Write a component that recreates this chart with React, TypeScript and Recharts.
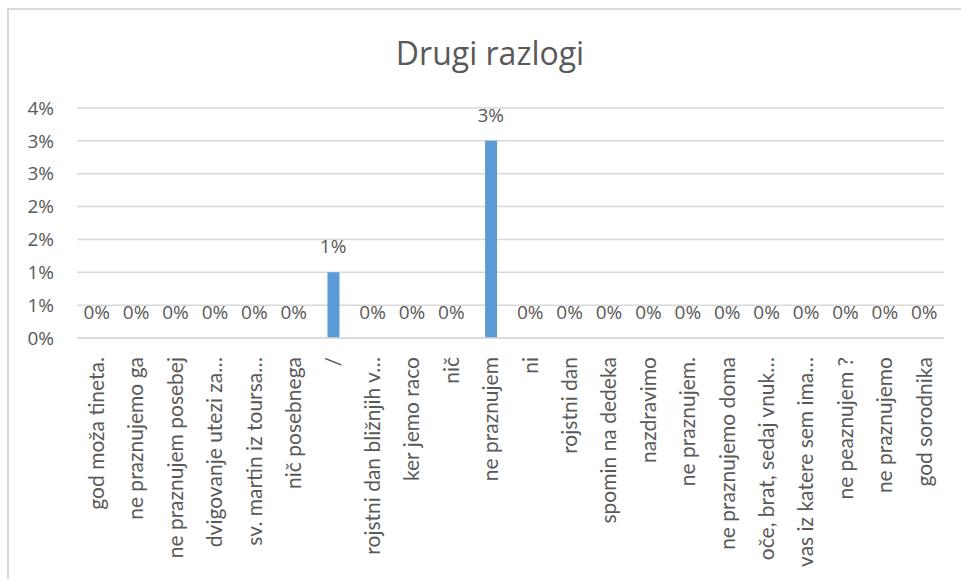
import React from "react";
import { ComposedChart, Bar, Line, XAxis, YAxis, CartesianGrid, LabelList } from "recharts";

// answers (category labels as shown, long ones already cut by Excel)
const categories = [
  "god moža tineta.",
  "ne praznujemo ga",
  "ne praznujem posebej",
  "dvigovanje utezi za…",
  "sv. martin iz toursa…",
  "nič posebnega",
  "/",
  "rojstni dan bližnjih v…",
  "ker jemo raco",
  "nič",
  "ne praznujem",
  "ni",
  "rojstni dan",
  "spomin na dedeka",
  "nazdravimo",
  "ne praznujem.",
  "ne praznujemo doma",
  "oče, brat, sedaj vnuk…",
  "vas iz katere sem ima…",
  "ne peaznujem ?",
  "ne praznujemo",
  "god sorodnika",
];

// share of answers, in %
const shares = [0, 0, 0, 0, 0, 0, 1, 0, 0, 0, 3, 0, 0, 0, 0, 0, 0, 0, 0, 0, 0, 0];

const yTicks = [0, 0.5, 1, 1.5, 2, 2.5, 3, 3.5];

const chartTitle = "Drugi razlogi";

const data = categories.map((name, i) => ({ name, value: shares[i] }));

const FONT = "'Open Sans', sans-serif";
const LABEL_FONT = "Lato, 'Open Sans', sans-serif";
const TEXT = "#595959";

const pct = (v: number) => `${Math.round(v)}%`;

const CategoryTick = (props: any) => {
  const { x, y, payload } = props;
  const ty = y + 11;
  return (
    <text
      x={x}
      y={ty}
      transform={`rotate(-90, ${x}, ${ty})`}
      textAnchor="end"
      dy="0.35em"
      fill={TEXT}
      fontSize={21}
      fontFamily={LABEL_FONT}
    >
      {payload.value}
    </text>
  );
};

// data label drawn above each point
const ValueLabel = (props: any) => {
  const { x, y, value } = props;
  return (
    <text
      x={x}
      y={y - 19}
      textAnchor="middle"
      fill={TEXT}
      fontSize={19}
      fontFamily={FONT}
    >
      {pct(Number(value))}
    </text>
  );
};

export default function App() {
  return (
    <div
      style={{
        position: "absolute",
        left: 0,
        top: 0,
        width: 961,
        height: 579,
        overflow: "hidden",
        background: "#fff",
      }}
    >
      <div
        style={{
          position: "absolute",
          left: 7,
          top: 8,
          width: 1000,
          height: 700,
          borderLeft: "2px solid #D9D9D9",
          borderTop: "2px solid #D9D9D9",
        }}
      />
      <div
        style={{
          position: "absolute",
          left: 0,
          top: 33,
          width: 980,
          textAlign: "center",
          fontFamily: FONT,
          fontSize: 32,
          color: TEXT,
          lineHeight: "40px",
        }}
      >
        {chartTitle}
      </div>
      <div style={{ position: "absolute", left: 0, top: 0 }}>
        <ComposedChart
          width={961}
          height={579}
          data={data}
          margin={{ top: 108, right: 17, bottom: 0, left: 0 }}
        >
          <CartesianGrid vertical={false} stroke="#D9D9D9" strokeWidth={1.5} />
          <XAxis
            dataKey="name"
            interval={0}
            height={241}
            axisLine={{ stroke: "#D9D9D9", strokeWidth: 1.5 }}
            tickLine={false}
            tick={<CategoryTick />}
          />
          <YAxis
            width={77}
            domain={[0, 3.5]}
            ticks={yTicks}
            tickFormatter={pct}
            axisLine={false}
            tickLine={false}
            tickSize={0}
            tickMargin={23}
            tick={{ fill: TEXT, fontSize: 19, fontFamily: FONT }}
          />
          <Bar dataKey="value" fill="#5B9BD5" barSize={12} isAnimationActive={false} />
          {/* invisible line only to carry the data labels, so zero values get one too */}
          <Line
            dataKey="value"
            stroke="none"
            dot={false}
            activeDot={false}
            legendType="none"
            isAnimationActive={false}
          >
            <LabelList dataKey="value" content={<ValueLabel />} />
          </Line>
        </ComposedChart>
      </div>
    </div>
  );
}
